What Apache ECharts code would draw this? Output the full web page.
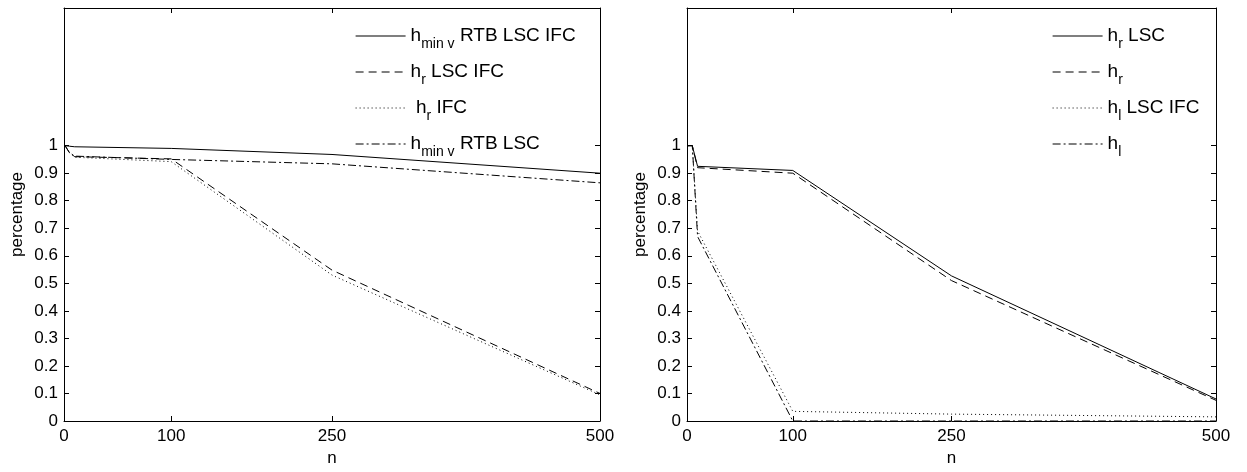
<!DOCTYPE html>
<html>
<head>
<meta charset="utf-8">
<script src="https://cdn.jsdelivr.net/npm/echarts@6/dist/echarts.min.js"></script>
<style>
  html, body { margin: 0; padding: 0; background: #fff; }
  #chart { width: 1247px; height: 472px; }
</style>
</head>
<body>
<div id="chart"></div>
<script>
// sample points (n)
const nValues = [1, 5, 10, 100, 250, 500];

// left panel
const leftNames = ["h_{min v} RTB LSC IFC", "h_{r} LSC IFC", " h_{r} IFC", "h_{min v} RTB LSC"];
const leftSolid = [1, 0.998, 0.996, 0.99, 0.968, 0.90];
const leftDashed = [1, 0.975, 0.96, 0.952, 0.548, 0.10];
const leftDotted = [1, 0.975, 0.958, 0.942, 0.53, 0.095];
const leftDashDot = [1, 0.975, 0.962, 0.95, 0.934, 0.865];

// right panel
const rightNames = ["h_{r} LSC", "h_{r}", "h_{l} LSC IFC", "h_{l}"];
const rightSolid = [1, 1, 0.925, 0.91, 0.527, 0.08];
const rightDashed = [1, 1, 0.92, 0.90, 0.51, 0.075];
const rightDotted = [1, 1, 0.69, 0.035, 0.025, 0.015];
const rightDashDot = [1, 1, 0.67, 0, 0, 0];

const xTicks = [0, 100, 250, 500];
const yTicks = [0, 0.1, 0.2, 0.3, 0.4, 0.5, 0.6, 0.7, 0.8, 0.9, 1];

const dashTypes = ["solid", [8, 5], [1, 3], [8, 3, 2, 3]];
const FONT = "Liberation Sans";

let myChart = echarts.init(document.getElementById("chart"));

function pairs(ys) {
  return nValues.map((n, i) => [n, ys[i]]);
}

// "h_{sub} rest" -> rich text with subscript
function legendFmt(name) {
  let m = name.match(/^(\s*)h_\{(.*?)\}(.*)$/);
  if (!m) return name;
  return "{m|" + m[1] + "h}{s|" + m[2] + "}{m|" + m[3] + "}";
}

function makeAxes(gi) {
  return {
    x: [
      {
        type: "value", gridIndex: gi, min: 0, max: 500,
        name: "n", nameLocation: "middle", nameGap: 29,
        nameTextStyle: { fontFamily: FONT, fontSize: 17, color: "#000" },
        splitLine: { show: false },
        axisLine: { onZero: false, lineStyle: { color: "#000", width: 1 } },
        axisTick: { inside: true, length: 5, customValues: xTicks, lineStyle: { color: "#000" } },
        axisLabel: { customValues: xTicks, fontFamily: FONT, fontSize: 17, color: "#000", margin: 7 },
      },
      {
        type: "value", gridIndex: gi, min: 0, max: 500, position: "top",
        splitLine: { show: false },
        axisLine: { onZero: false, lineStyle: { color: "#000", width: 1 } },
        axisTick: { inside: true, length: 5, customValues: xTicks, lineStyle: { color: "#000" } },
        axisLabel: { show: false },
      },
    ],
    y: [
      {
        type: "value", gridIndex: gi, min: 0, max: 1.5,
        name: "percentage", nameLocation: "middle", nameGap: 38,
        nameTextStyle: { fontFamily: FONT, fontSize: 17, color: "#000" },
        splitLine: { show: false },
        axisLine: { show: true, onZero: false, lineStyle: { color: "#000", width: 1 } },
        axisTick: { show: true, inside: true, length: 5, customValues: yTicks, lineStyle: { color: "#000" } },
        axisLabel: { customValues: yTicks, fontFamily: FONT, fontSize: 17, color: "#000", margin: 6 },
      },
      {
        type: "value", gridIndex: gi, min: 0, max: 1.5, position: "right",
        splitLine: { show: false },
        axisLine: { show: true, onZero: false, lineStyle: { color: "#000", width: 1 } },
        axisTick: { show: true, inside: true, length: 5, customValues: yTicks, lineStyle: { color: "#000" } },
        axisLabel: { show: false },
      },
    ],
  };
}

let axL = makeAxes(0);
let axR = makeAxes(1);

function makeSeries(names, datas, xi, yi) {
  return names.map((nm, i) => ({
    name: nm,
    type: "line",
    xAxisIndex: xi,
    yAxisIndex: yi,
    symbol: "none",
    lineStyle: { color: "#000", width: 1, type: dashTypes[i] },
    itemStyle: { color: "#000" },
    data: pairs(datas[i]),
  }));
}

function makeLegend(names, left) {
  return {
    data: names,
    left: left,
    top: 16,
    orient: "vertical",
    itemWidth: 50,
    itemHeight: 14,
    itemGap: 6,
    formatter: legendFmt,
    itemStyle: { color: "rgba(0,0,0,0)", borderWidth: 0 },
    lineStyle: { width: 1.2, color: "#000" },
    textStyle: {
      color: "#000",
      rich: {
        m: { fontFamily: FONT, fontSize: 19, color: "#000", lineHeight: 20 },
        s: { fontFamily: FONT, fontSize: 14, color: "#000", lineHeight: 20, padding: [16, 0, 0, 0] },
      },
    },
  };
}

let option = {
  backgroundColor: "#fff",
  animation: false,
  grid: [
    { left: 64, right: 647, top: 8, bottom: 48 },
    { left: 687, right: 31, top: 8, bottom: 48 },
  ],
  legend: [makeLegend(leftNames, 350), makeLegend(rightNames, 1047)],
  xAxis: [axL.x[0], axL.x[1], axR.x[0], axR.x[1]],
  yAxis: [axL.y[0], axL.y[1], axR.y[0], axR.y[1]],
  series: [].concat(
    makeSeries(leftNames, [leftSolid, leftDashed, leftDotted, leftDashDot], 0, 0),
    makeSeries(rightNames, [rightSolid, rightDashed, rightDotted, rightDashDot], 2, 2)
  ),
};
myChart.setOption(option);
</script>
</body>
</html>
